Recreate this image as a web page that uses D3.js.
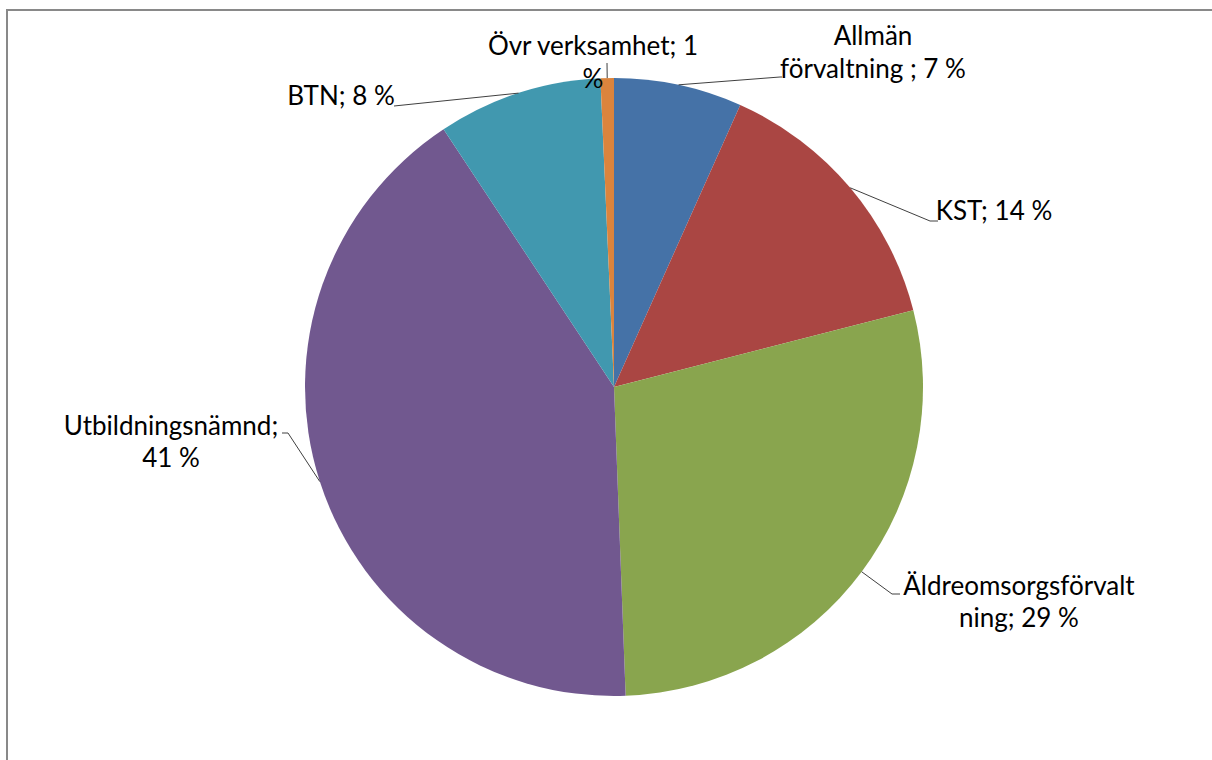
<!DOCTYPE html>
<html>
<head>
<meta charset="utf-8">
<script src="https://cdn.jsdelivr.net/npm/d3@7"></script>
<style>
  body { margin: 0; background: #fff; }
  text { font-family: Lato, "Open Sans", sans-serif; font-size: 26px; fill: #000; }
  .frame { fill: none; stroke: #898989; stroke-width: 2; }
  .leader { fill: none; stroke: #404040; stroke-width: 1; }
</style>
</head>
<body>
<svg id="chart" width="1212" height="760"></svg>
<script>
// data
var categories = ['Allmän förvaltning ', 'KST', 'Äldreomsorgsförvaltning', 'Utbildningsnämnd', 'BTN', 'Övr verksamhet'],
    values = [6.7, 14.3, 28.4, 41.3, 8.6, 0.7],
    colors = ['#4572A7', '#AA4643', '#89A54E', '#71588F', '#4198AF', '#DB843D'];

// label layout (wrapped lines as excel shows them, anchor x, first baseline y, leader elbow)
var labelLines = [
    ['Allmän', 'förvaltning ; 7 %'],
    ['KST; 14 %'],
    ['Äldreomsorgsförvalt', 'ning; 29 %'],
    ['Utbildningsnämnd;', '41 %'],
    ['BTN; 8 %'],
    ['Övr verksamhet; 1', '%']
  ],
  labelPos = [
    {x: 873, y: 45, gap: 33, elbow: [780, 77], end: [782, 77]},
    {x: 994, y: 220, gap: 32, elbow: [930, 221], end: [938, 221]},
    {x: 1019, y: 595, gap: 32, elbow: [892, 594], end: [900, 594]},
    {x: 171, y: 435, gap: 32, elbow: [288, 433], end: [282, 433]},
    {x: 341, y: 105, gap: 32, elbow: [394, 106], end: [394, 106]},
    {x: 593, y: 55, gap: 33, elbow: [607, 63], end: [607, 63]}
  ];

var svg = d3.select('#chart');
var cx = 614, cy = 387, radius = 309;

// chart frame
svg.append('path')
    .attr('class', 'frame')
    .attr('d', 'M7,760V10H1214');

var pie = d3.pie().sort(null).value(function(d) { return d; });
var arc = d3.arc().innerRadius(0).outerRadius(radius);

var g = svg.append('g')
    .attr('transform', 'translate(' + cx + ',' + cy + ')');

var arcs = pie(values);

g.selectAll('.slice')
    .data(arcs)
  .enter().append('path')
    .attr('class', 'slice')
    .attr('d', arc)
    .attr('fill', function(d, i) { return colors[i]; });

// leader lines from the slice edge to label
function edgePoint(d) {
  var a = (d.startAngle + d.endAngle) / 2;
  return [cx + radius * Math.sin(a), cy - radius * Math.cos(a)];
}

svg.selectAll('.leader')
    .data(arcs)
  .enter().append('polyline')
    .attr('class', 'leader')
    .attr('points', function(d, i) {
      var p = edgePoint(d), l = labelPos[i];
      return [p, l.elbow, l.end].map(function(q) { return q.join(','); }).join(' ');
    });

var labels = svg.selectAll('.label')
    .data(labelLines)
  .enter().append('text')
    .attr('class', 'label')
    .attr('text-anchor', 'middle')
    .attr('x', function(d, i) { return labelPos[i].x; })
    .attr('y', function(d, i) { return labelPos[i].y; });

labels.selectAll('tspan')
    .data(function(d, i) { return d.map(function(t) { return {t: t, i: i}; }); })
  .enter().append('tspan')
    .attr('x', function(d) { return labelPos[d.i].x; })
    .attr('dy', function(d, j) { return j ? labelPos[d.i].gap : 0; })
    .text(function(d) { return d.t; });
</script>
</body>
</html>
